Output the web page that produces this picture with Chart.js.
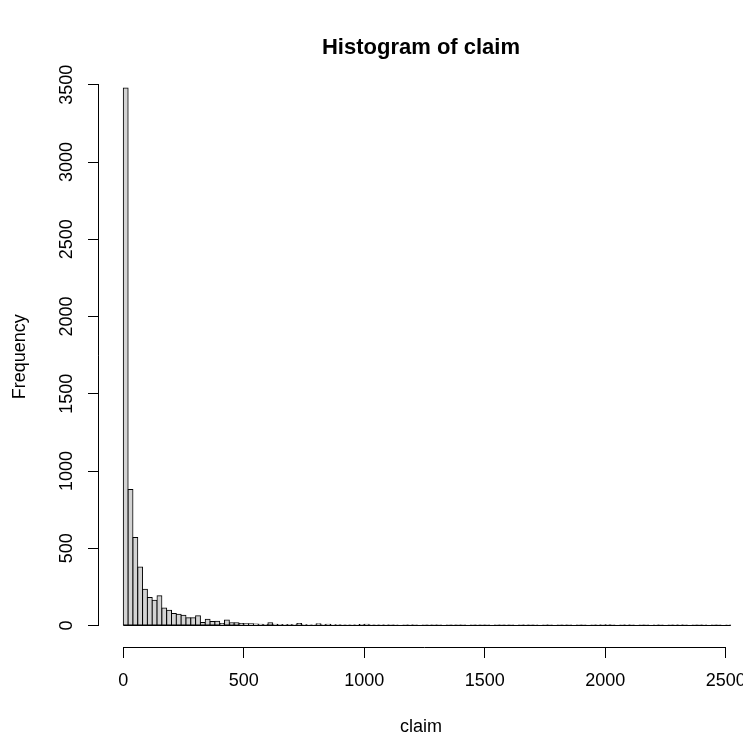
<!DOCTYPE html>
<html>
<head>
<meta charset="utf-8">
<script src="https://cdn.jsdelivr.net/npm/chart.js@4"></script>
<style>html,body{margin:0;padding:0;background:#fff}</style>
</head>
<body>
<canvas id="hist" width="743" height="740"></canvas>
<script>
'use strict';

// Histogram of claim: bins of 20 starting at 0.
const binWidth = 20;
const counts = [
  3480, 881, 570, 378, 235, 181, 164, 192, 114, 99,
  78, 73, 67, 50, 50, 63, 19, 41, 26, 28,
  13, 35, 17, 17, 13, 11, 11, 9, 8, 7,
  17, 8, 6, 5, 6, 5, 13, 5, 4, 4,
  12, 5, 8, 4, 5, 3, 4, 3, 3, 6,
  8, 3, 2, 3, 2, 1, 2, 0, 1, 2,
  1, 0, 1, 2, 1, 1, 0, 1, 2, 1,
  1, 0, 1, 2, 1, 1, 0, 1, 1, 2,
  1, 0, 1, 2, 1, 2, 0, 1, 1, 0,
  1, 2, 1, 0, 1, 1, 0, 1, 2, 1,
  5, 1, 0, 1, 2, 1, 0, 1, 1, 0,
  4, 1, 0, 1, 2, 4, 1, 0, 1, 1,
  2, 0, 1, 1, 0, 2
];
const xTicks = [0, 500, 1000, 1500, 2000, 2500];
const yTicks = [0, 500, 1000, 1500, 2000, 2500, 3000, 3500];

const font = {family: "'Liberation Sans', Arial, sans-serif", size: 18};

// R style axes: lines only from first to last tick, plus the baseline of the bars.
const rAxes = {
  id: 'rAxes',
  afterDatasetsDraw(chart) {
    const {ctx, chartArea, scales: {x, y}} = chart;
    ctx.save();
    ctx.strokeStyle = '#000';
    ctx.lineWidth = 1;
    ctx.beginPath();
    const xb = Math.round(chartArea.bottom) + 0.5;
    ctx.moveTo(x.getPixelForValue(xTicks[0]), xb);
    ctx.lineTo(x.getPixelForValue(xTicks[xTicks.length - 1]), xb);
    const yl = Math.round(chartArea.left) - 0.5;
    ctx.moveTo(yl, y.getPixelForValue(yTicks[0]));
    ctx.lineTo(yl, y.getPixelForValue(yTicks[yTicks.length - 1]));
    const y0 = y.getPixelForValue(0);
    ctx.moveTo(x.getPixelForValue(0), y0);
    ctx.lineTo(x.getPixelForValue(counts.length * binWidth), y0);
    ctx.stroke();
    ctx.restore();
  }
};

const topCount = Math.max(...counts);
const xMin = -0.04 * counts.length * binWidth;

new Chart(document.getElementById('hist'), {
  type: 'bar',
  data: {
    datasets: [{
      data: counts.map((c, i) => ({x: i * binWidth + binWidth / 2, y: c})),
      backgroundColor: '#d3d3d3',
      borderColor: '#000',
      borderSkipped: false,
      borderWidth: 1,
      // half a pixel out on each side so that neighbour borders overlap like R's rect()
      inflateAmount: 0.5,
      barPercentage: 1,
      categoryPercentage: 1
    }]
  },
  options: {
    responsive: false,
    animation: false,
    devicePixelRatio: 1,
    plugins: {
      legend: {display: false},
      tooltip: {enabled: false},
      title: {
        display: true,
        text: 'Histogram of claim',
        fullSize: false,
        color: '#000',
        font: {family: font.family, size: 22, weight: 'bold'},
        padding: {top: 35, bottom: 5}
      }
    },
    scales: {
      x: {
        type: 'linear',
        offset: false,
        min: xMin,
        max: xMin + 2672,
        afterBuildTicks: s => { s.ticks = xTicks.map(v => ({value: v})); },
        afterFit: s => { s.height = 93; s.paddingLeft = 0; s.paddingRight = 0; },
        border: {display: false},
        grid: {offset: false, drawOnChartArea: false, drawTicks: true, tickLength: 11, color: '#000'},
        ticks: {color: '#000', font: font, padding: 12, maxRotation: 0, minRotation: 0, callback: v => String(v)},
        title: {display: true, text: 'claim', color: '#000', font: font, padding: {top: 0, bottom: 2}}
      },
      y: {
        min: -0.04 * topCount,
        max: 1.04 * topCount,
        afterBuildTicks: s => { s.ticks = yTicks.map(v => ({value: v})); },
        afterFit: s => { s.width = 99; s.paddingTop = 0; s.paddingBottom = 0; },
        border: {display: false},
        grid: {offset: false, drawOnChartArea: false, drawTicks: true, tickLength: 11, color: '#000'},
        ticks: {color: '#000', font: font, padding: 1, minRotation: 90, maxRotation: 90, crossAlign: 'center', callback: v => String(v)},
        title: {display: true, text: 'Frequency', color: '#000', font: font, padding: {top: 9, bottom: 0}}
      }
    }
  },
  plugins: [rAxes]
});
</script>
</body>
</html>
